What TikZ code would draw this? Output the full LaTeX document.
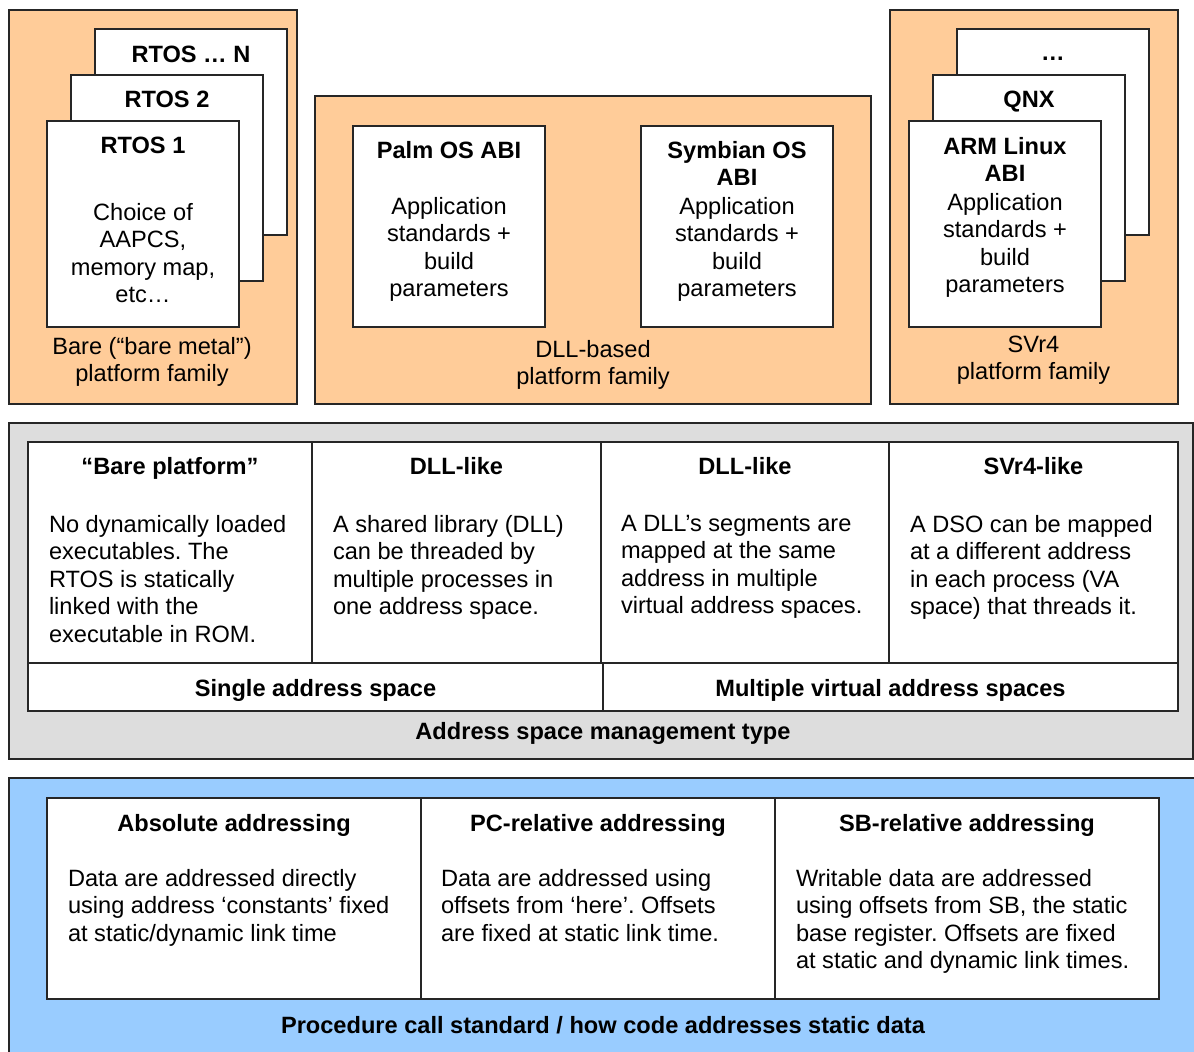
\documentclass[tikz,border=0pt]{standalone}
\usepackage{fontspec}
\setmainfont{Liberation Sans}
\frenchspacing
\definecolor{platorange}{HTML}{FFCC99}
\definecolor{addrgray}{HTML}{DDDDDD}
\definecolor{pcsblue}{HTML}{99CCFF}
\newcommand{\txtsize}{\fontsize{11.8}{13.75}\selectfont\frenchspacing}
\begin{document}
\begin{tikzpicture}[x=0.5pt,y=-0.5pt,line width=1pt,
panel/.style={draw=black!85,rectangle,inner sep=0pt,line width=1pt},
card/.style={draw=black!85,fill=white,rectangle,inner sep=0pt,minimum width=96pt,minimum height=103pt},
cell/.style={draw=black!85,fill=white,rectangle,inner sep=0pt},
head/.style={font=\txtsize\bfseries,align=center,anchor=north,inner sep=0pt},
txt/.style={font=\txtsize,align=center,anchor=north,inner sep=0pt},
para/.style={font=\txtsize,align=left,anchor=north west,inner sep=0pt}]
\useasboundingbox (0,0) rectangle (1194,1052);
\clip (0,0) rectangle (1194,1052);
\fill[white] (0,0) rectangle (1194,1052);

% platform families
\draw (153,207) node[panel,fill=platorange,minimum width=144pt,minimum height=197pt] (bare) {};
\draw (593,250) node[panel,fill=platorange,minimum width=278pt,minimum height=154pt] (dll) {};
\draw (1034,207) node[panel,fill=platorange,minimum width=144pt,minimum height=197pt] (svr) {};

\draw (191,132) node[card] (rtosN) {};
\draw (167,178) node[card] (rtos2) {};
\draw (143,224) node[card] (rtos1) {};
\draw (rtosN.north) ++(0,17) node[head] (rtosNt) {RTOS … N};
\draw (rtos2.north) ++(0,16) node[head] (rtos2t) {RTOS 2};
\draw (rtos1.north) ++(0,16) node[head] (rtos1t) {RTOS 1};
\draw (rtos1.north) ++(0,82) node[txt] (rtos1b) {Choice of\\AAPCS,\\memory map,\\etc…};
\draw (152,336) node[txt] (barel) {Bare (“bare metal”)\\platform family};

\draw (449,226.5) node[card,minimum height=100.5pt] (palm) {};
\draw (737,226.5) node[card,minimum height=100.5pt] (symb) {};
\draw (palm.north) ++(0,15) node[head] (palmt) {Palm OS ABI};
\draw (symb.north) ++(0,15) node[head] (symbt) {Symbian OS\\ABI};
\draw (palm.north) ++(0,71) node[txt] (palmb) {Application\\standards +\\build\\parameters};
\draw (symb.north) ++(0,71) node[txt] (symbb) {Application\\standards +\\build\\parameters};
\draw (593,339) node[txt] (dlll) {DLL-based\\platform family};

\draw (1053,132) node[card] (etc) {};
\draw (1029,178) node[card] (qnx) {};
\draw (1005,224) node[card] (arm) {};
\draw (etc.north) ++(0,33) node[head,anchor=base] (etct) {…};
\draw (qnx.north) ++(0,16) node[head] (qnxt) {QNX};
\draw (arm.north) ++(0,16) node[head] (armt) {ARM Linux\\ABI};
\draw (arm.north) ++(0,72) node[txt] (armb) {Application\\standards +\\build\\parameters};
\draw (1033.5,335) node[txt] (svrl) {SVr4\\platform family};

% address space management
\draw (601,591) node[panel,fill=addrgray,minimum width=592pt,minimum height=168pt] (addr) {};
\draw (170,552.5) node[cell,minimum width=142pt,minimum height=110.5pt] (cbare) {};
\draw (456.5,552.5) node[cell,minimum width=144.5pt,minimum height=110.5pt] (cdll) {};
\draw (745,552.5) node[cell,minimum width=144pt,minimum height=110.5pt] (cdllv) {};
\draw (1033.5,552.5) node[cell,minimum width=144.5pt,minimum height=110.5pt] (csvr) {};
\draw (315.5,687) node[cell,minimum width=287.5pt,minimum height=24pt] (single) {};
\draw (890.5,687) node[cell,minimum width=287.5pt,minimum height=24pt] (multi) {};
\draw (single.north) ++(0,16) node[head] (singlet) {Single address space};
\draw (multi.north) ++(0,16) node[head] (multit) {Multiple virtual address spaces};
\draw (cbare.north) ++(0,15) node[head] (cbaret) {“Bare platform”};
\draw (cdll.north) ++(0,15) node[head] (cdllt) {DLL-like};
\draw (cdllv.north) ++(0,15) node[head] (cdllvt) {DLL-like};
\draw (csvr.north) ++(0,15) node[head] (csvrt) {SVr4-like};
\draw (cbare.north west) ++(21,73) node[para] (cbareb) {No dynamically loaded\\executables. The\\RTOS is statically\\linked with the\\executable in ROM.};
\draw (cdll.north west) ++(21,73) node[para] (cdllb) {A shared library (DLL)\\can be threaded by\\multiple processes in\\one address space.};
\draw (cdllv.north west) ++(20,73) node[para] (cdllvb) {A DLL’s segments are\\mapped at the same\\address in multiple\\virtual address spaces.};
\draw (csvr.north west) ++(21,73) node[para] (csvrb) {A DSO can be mapped\\at a different address\\in each process (VA\\space) that threads it.};
\draw (603,721) node[head] (addrl) {Address space management type};

% procedure call standard
\draw (611,925) node[panel,fill=pcsblue,minimum width=602pt,minimum height=147pt] (pcs) {};
\draw (234,898.5) node[cell,minimum width=187pt,minimum height=100.5pt] (abs) {};
\draw (598,898.5) node[cell,minimum width=177pt,minimum height=100.5pt] (pcrel) {};
\draw (967,898.5) node[cell,minimum width=192pt,minimum height=100.5pt] (sbrel) {};
\draw (abs.north) ++(0,16) node[head] (abst) {Absolute addressing};
\draw (pcrel.north) ++(0,16) node[head] (pcrelt) {PC-relative addressing};
\draw (sbrel.north) ++(0,16) node[head] (sbrelt) {SB-relative addressing};
\draw (abs.north west) ++(21,71) node[para] (absb) {Data are addressed directly\\using address ‘constants’ fixed\\at static/dynamic link time};
\draw (pcrel.north west) ++(20,71) node[para] (pcrelb) {Data are addressed using\\offsets from ‘here’. Offsets\\are fixed at static link time.};
\draw (sbrel.north west) ++(21,71) node[para] (sbrelb) {Writable data are addressed\\using offsets from SB, the static\\base register. Offsets are fixed\\at static and dynamic link times.};
\draw (603,1015) node[head] (pcsl) {Procedure call standard / how code addresses static data};
\end{tikzpicture}
\end{document}
